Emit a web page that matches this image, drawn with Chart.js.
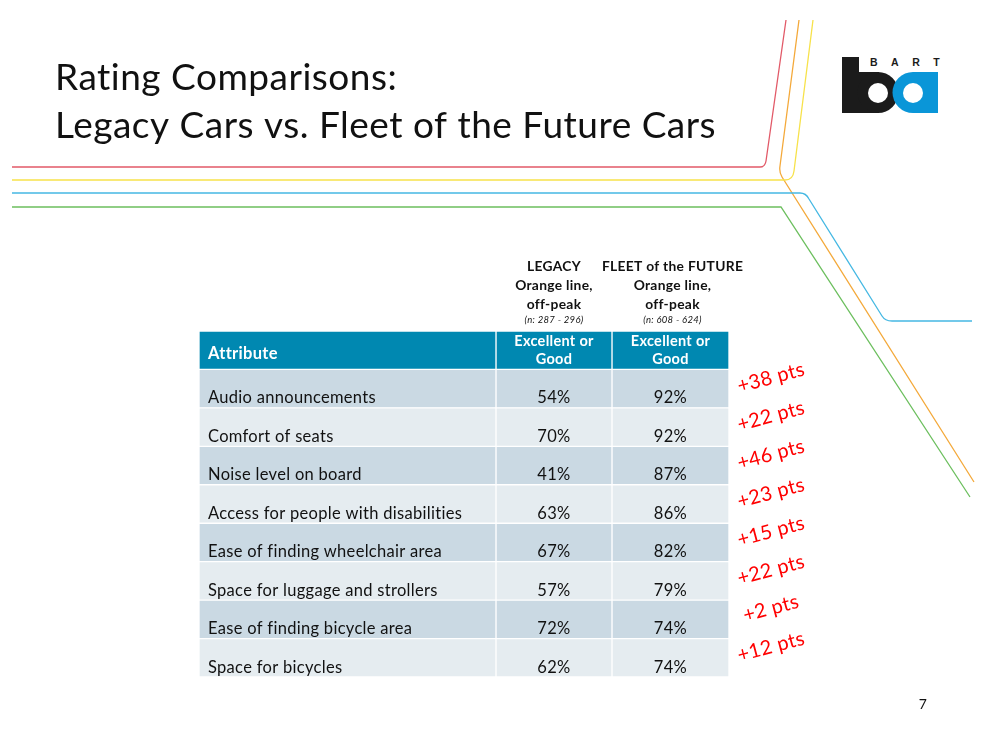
<!DOCTYPE html>
<html lang="en">
<head>
    <meta charset="UTF-8">
    <title>Rating Comparisons</title>
    <script src="https://cdn.jsdelivr.net/npm/chart.js"></script>
    <style>
        body {
            margin: 0;
            background: #fff;
            overflow: hidden;
        }
        .slide {
            position: relative;
            width: 991px;
            height: 745px;
        }
        .slide svg, .slide canvas {
            position: absolute;
            left: 0;
            top: 0;
        }
    </style>
</head>
<body>
    <div class="slide">
        <!-- transit lines + logo, decoration only -->
        <svg width="991" height="745" viewBox="0 0 991 745">
            <g fill="none" stroke-width="1.3">
                <path d="M12,167 H760 Q765,167 766,161 L786,20" stroke="#E25A68"/>
                <path d="M799,20 L780,166 Q779,172 782,177 L974,482" stroke="#F4A93A"/>
                <path d="M813,20 L794,171 Q793,180 785,180 H12" stroke="#F7E24A"/>
                <path d="M12,193 H800 Q806,193 809,199 L882,316 Q885,321 892,321 H972" stroke="#45B8E3"/>
                <path d="M12,207 H781 L970,497" stroke="#6CBF5E"/>
            </g>
            <g>
                <rect x="842" y="57" width="17" height="56" fill="#1b1b1b"/>
                <rect x="855" y="72" width="24" height="41" fill="#1b1b1b"/>
                <circle cx="878" cy="92.5" r="20.5" fill="#1b1b1b"/>
                <circle cx="913" cy="92.5" r="20.5" fill="#0a96d8"/>
                <rect x="913" y="72" width="25" height="41" fill="#0a96d8"/>
                <circle cx="878" cy="93" r="10" fill="#fff"/>
                <circle cx="913" cy="93" r="10" fill="#fff"/>
                <text x="870" y="66" font-family="Liberation Sans, Arial, sans-serif" font-weight="bold" font-size="10.5" letter-spacing="13.5" fill="#1b1b1b">BART</text>
            </g>
        </svg>
        <canvas id="table" width="991" height="745"></canvas>
    </div>

    <script>
        // slide data
        const titleLines = ['Rating Comparisons:', 'Legacy Cars vs. Fleet of the Future Cars'];
        const attributes = [
            'Audio announcements',
            'Comfort of seats',
            'Noise level on board',
            'Access for people with disabilities',
            'Ease of finding wheelchair area',
            'Space for luggage and strollers',
            'Ease of finding bicycle area',
            'Space for bicycles'
        ];
        const legacy = [54, 70, 41, 63, 67, 57, 72, 62];
        const future = [92, 92, 87, 86, 82, 79, 74, 74];
        const legacyHead = ['LEGACY', 'Orange line,', 'off-peak'];
        const futureHead = ['FLEET of the FUTURE', 'Orange line,', 'off-peak'];
        const sampleSizes = ['(n: 287 - 296)', '(n: 608 - 624)'];
        const attributeHead = 'Attribute';
        const ratingHead = ['Excellent or', 'Good'];
        const pageNumber = '7';

        // table layout (x units = px of table width)
        const colEdges = [0, 297, 413, 530];
        const FONT = 'Lato, "Open Sans", sans-serif';
        const headerColor = '#0088B1';
        const darkRow = '#CAD9E3';
        const lightRow = '#E5ECF0';

        const rowLabels = [attributeHead].concat(attributes);
        const rowColors = rowLabels.map((r, i) => i === 0 ? headerColor : (i % 2 === 1 ? darkRow : lightRow));

        function columnData(k) {
            return rowLabels.map(() => [colEdges[k], colEdges[k + 1]]);
        }

        const textPlugin = {
            id: 'tableText',
            afterDatasetsDraw(chart) {
                const ctx = chart.ctx;
                const x = chart.scales.x;
                const y = chart.scales.y;
                const rowH = (y.bottom - y.top) / rowLabels.length;
                const colLeft = k => x.getPixelForValue(colEdges[k]);
                const colMid = k => (x.getPixelForValue(colEdges[k]) + x.getPixelForValue(colEdges[k + 1])) / 2;
                const tableTop = y.top;

                ctx.save();
                // small spacing also stops Lato's ti / fi ligatures
                ctx.letterSpacing = '0.3px';

                // slide title
                ctx.fillStyle = '#111';
                ctx.textAlign = 'left';
                ctx.textBaseline = 'alphabetic';
                ctx.letterSpacing = '0.5px';
                ctx.font = '37px ' + FONT;
                ctx.fillText(titleLines[0], 55, 90);
                ctx.fillText(titleLines[1], 55, 138);
                ctx.letterSpacing = '0.3px';

                // column headings above the table
                [legacyHead, futureHead].forEach((lines, j) => {
                    const cx = colMid(j + 1) + j * 2;
                    ctx.textAlign = 'center';
                    ctx.fillStyle = '#111';
                    ctx.font = 'bold 13.8px ' + FONT;
                    lines.forEach((t, n) => ctx.fillText(t, cx, tableTop - 60 + n * 19));
                    ctx.font = 'italic 9.5px ' + FONT;
                    ctx.fillText(sampleSizes[j], cx, tableTop - 8);
                });

                // header row
                ctx.fillStyle = '#fff';
                ctx.font = 'bold 16.5px ' + FONT;
                ctx.textAlign = 'left';
                ctx.fillText(attributeHead, colLeft(0) + 9, tableTop + 28);
                ctx.font = 'bold 14.5px ' + FONT;
                ctx.textAlign = 'center';
                [1, 2].forEach(k => {
                    ctx.fillText(ratingHead[0], colMid(k), tableTop + 15);
                    ctx.fillText(ratingHead[1], colMid(k), tableTop + 33);
                });

                // body rows
                attributes.forEach((name, i) => {
                    const cy = y.getPixelForValue(i + 1);
                    const base = cy + rowH / 2 - 4.5;
                    ctx.fillStyle = '#111';
                    ctx.font = '16.5px ' + FONT;
                    ctx.textAlign = 'left';
                    ctx.fillText(name, colLeft(0) + 9, base);
                    ctx.textAlign = 'center';
                    ctx.fillText(legacy[i] + '%', colMid(1), base);
                    ctx.fillText(future[i] + '%', colMid(2), base);

                    // gain, rotated red note to the right of the row
                    const diff = future[i] - legacy[i];
                    ctx.save();
                    ctx.translate(x.right + 42, cy - 11);
                    ctx.rotate(-15 * Math.PI / 180);
                    ctx.fillStyle = '#FF0000';
                    ctx.font = '20px ' + FONT;
                    ctx.textBaseline = 'middle';
                    ctx.fillText('+' + diff + ' pts', 0, 0);
                    ctx.restore();
                });

                // page number
                ctx.fillStyle = '#111';
                ctx.font = '14px ' + FONT;
                ctx.textAlign = 'center';
                ctx.fillText(pageNumber, 923, 709);

                ctx.restore();
            }
        };

        const ctx = document.getElementById('table').getContext('2d');
        new Chart(ctx, {
            type: 'bar',
            data: {
                labels: rowLabels,
                datasets: [0, 1, 2].map(k => ({
                    label: 'col' + k,
                    data: columnData(k),
                    backgroundColor: rowColors,
                    borderColor: '#fff',
                    borderWidth: 1,
                    borderSkipped: false,
                    grouped: false,
                    barPercentage: 1,
                    categoryPercentage: 1
                }))
            },
            options: {
                indexAxis: 'y',
                responsive: false,
                animation: false,
                layout: {
                    padding: { left: 199, top: 331, right: 262, bottom: 68 }
                },
                plugins: {
                    legend: { display: false },
                    tooltip: { enabled: false }
                },
                scales: {
                    x: { type: 'linear', min: 0, max: 530, display: false },
                    y: { display: false }
                }
            },
            plugins: [textPlugin]
        });
    </script>
</body>
</html>
